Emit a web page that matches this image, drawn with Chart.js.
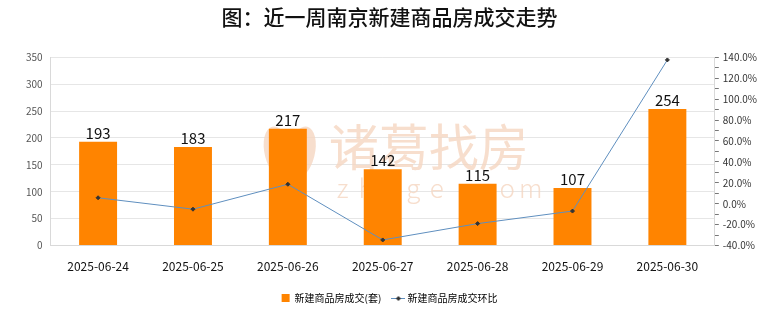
<!DOCTYPE html>
<html>
<head>
<meta charset="utf-8">
<script src="https://cdn.jsdelivr.net/npm/chart.js@4"></script>
<style>
  html, body { margin: 0; padding: 0; background: #fff; }
  #wrap { width: 780px; height: 328px; position: relative; }
</style>
</head>
<body>
<div id="wrap"><canvas id="chart" width="780" height="328"></canvas></div>
<script>
const dates = ["2025-06-24", "2025-06-25", "2025-06-26", "2025-06-27", "2025-06-28", "2025-06-29", "2025-06-30"];
const deals = [193, 183, 217, 142, 115, 107, 254];
const changePct = [5.7, -5.2, 18.6, -34.6, -19.0, -7.0, 137.4];

const cjk = '"Noto Sans CJK SC", "Noto Sans", sans-serif';

// legend marker for the line: short line with a small diamond
const lineMarker = document.createElement("canvas");
lineMarker.width = 14;
lineMarker.height = 8;
(() => {
  const c = lineMarker.getContext("2d");
  c.strokeStyle = "#5f8fbf";
  c.lineWidth = 1;
  c.beginPath();
  c.moveTo(0, 4.5);
  c.lineTo(14, 4.5);
  c.stroke();
  c.fillStyle = "#333";
  c.beginPath();
  c.moveTo(7, 2);
  c.lineTo(9.5, 4.5);
  c.lineTo(7, 7);
  c.lineTo(4.5, 4.5);
  c.closePath();
  c.fill();
})();

// faint watermark behind the bars
const watermark = {
  id: "watermark",
  beforeDatasetsDraw(chart) {
    const ctx = chart.ctx;
    const area = chart.chartArea;
    const cx = (area.left + area.right) / 2;
    ctx.save();
    ctx.fillStyle = "rgba(245, 214, 192, 0.8)";
    ctx.textAlign = "center";
    ctx.textBaseline = "middle";
    ctx.font = "400 50px " + cjk;
    ctx.fillText("诸葛找房", cx + 46, 147);
    ctx.font = "300 26px " + cjk;
    "zhuge.com".split("").forEach((c, i) => ctx.fillText(c, cx - 40 + i * 23.5, 188));
    // logo
    ctx.beginPath();
    ctx.ellipse(cx - 104, 153, 14, 27, -0.25, 0, Math.PI * 2);
    ctx.fill();
    ctx.beginPath();
    ctx.ellipse(cx - 82, 153, 14, 27, 0.25, 0, Math.PI * 2);
    ctx.fill();
    ctx.restore();
  }
};

// numbers above bars
const barLabels = {
  id: "barLabels",
  afterDatasetsDraw(chart) {
    const ctx = chart.ctx;
    const meta = chart.getDatasetMeta(0);
    ctx.save();
    ctx.fillStyle = "#111";
    ctx.font = "15px " + cjk;
    ctx.textAlign = "center";
    ctx.textBaseline = "bottom";
    meta.data.forEach((bar, i) => {
      ctx.fillText(deals[i], bar.x, bar.y - 1);
    });
    ctx.restore();
  }
};

new Chart(document.getElementById("chart"), {
  data: {
    labels: dates,
    datasets: [
      {
        type: "bar",
        label: "新建商品房成交(套)",
        data: deals,
        backgroundColor: "#ff8400",
        barPercentage: 0.4,
        categoryPercentage: 1,
        yAxisID: "y",
        order: 2
      },
      {
        type: "line",
        label: "新建商品房成交环比",
        data: changePct,
        borderColor: "#5f8fbf",
        borderWidth: 1,
        pointStyle: "rectRot",
        pointRadius: 2,
        pointBackgroundColor: "#333",
        pointBorderColor: "#333",
        yAxisID: "y1",
        order: 1
      }
    ]
  },
  options: {
    responsive: false,
    animation: false,
    layout: { padding: { left: 18, right: 19, top: 0, bottom: 15 } },
    plugins: {
      title: {
        display: true,
        text: "图：近一周南京新建商品房成交走势",
        color: "#111",
        font: { family: cjk, size: 21, weight: "500" },
        padding: { top: 4, bottom: 28 }
      },
      legend: {
        position: "bottom",
        labels: {
          color: "#222",
          font: { family: cjk, size: 10 },
          usePointStyle: true,
          boxWidth: 8,
          boxHeight: 8,
          padding: 13,
          generateLabels(chart) {
            return chart.data.datasets.map((ds, i) => ({
              text: ds.label,
              fillStyle: "#ff8400",
              strokeStyle: "#ff8400",
              lineWidth: 0,
              pointStyle: i === 0 ? "rect" : lineMarker,
              datasetIndex: i
            }));
          }
        }
      },
      tooltip: { enabled: false }
    },
    scales: {
      x: {
        grid: { display: false },
        border: { color: "#d9d9d9" },
        ticks: { color: "#111", font: { family: cjk, size: 12 }, padding: 6 }
      },
      y: {
        position: "left",
        min: 0,
        max: 350,
        ticks: { stepSize: 50, color: "#555", font: { family: cjk, size: 10 }, padding: 8 },
        grid: { color: "#e6e6e6", drawTicks: false },
        border: { color: "#d9d9d9" }
      },
      y1: {
        position: "right",
        min: -40,
        max: 140,
        ticks: {
          stepSize: 10,
          color: "#333",
          font: { family: cjk, size: 10 },
          padding: 4,
          autoSkip: false,
          callback: v => (v % 20 === 0 ? v.toFixed(1) + "%" : "")
        },
        grid: { drawOnChartArea: false, tickLength: 4, color: "#777" },
        border: { color: "#d9d9d9" }
      }
    }
  },
  plugins: [watermark, barLabels]
});
</script>
</body>
</html>
